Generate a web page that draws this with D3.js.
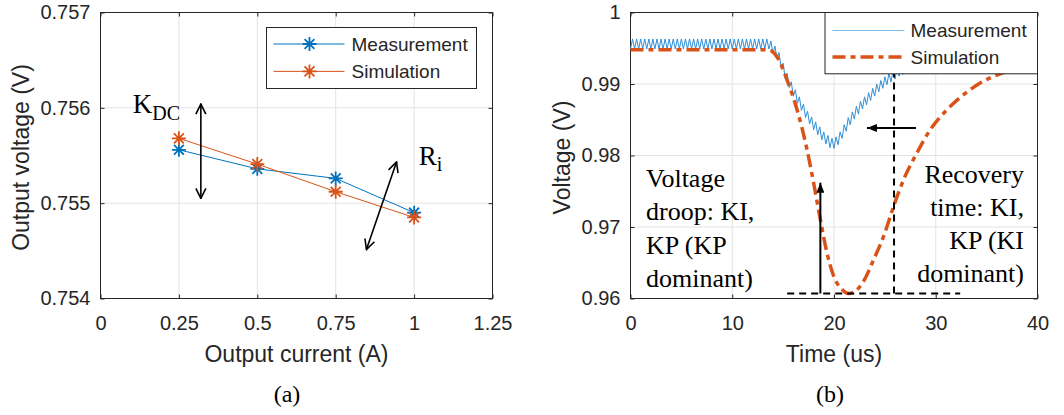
<!DOCTYPE html>
<html>
<head>
<meta charset="utf-8">
<script src="https://cdnjs.cloudflare.com/ajax/libs/d3/7.8.5/d3.min.js"></script>
<style>
  body { margin: 0; background: #fff; }
  .sans { font-family: "Liberation Sans", Arial, sans-serif; fill: #262626; }
  .serif { font-family: "Liberation Serif", "Times New Roman", serif; fill: #000; }
</style>
</head>
<body>
<div id="chart"></div>
<script>
// ---- panel (a): DC load line ----
var currentA = [0.25, 0.5, 0.75, 1.0];
var measuredV = [0.75556, 0.75536, 0.75526, 0.75490];
var simulatedV = [0.75568, 0.75541, 0.75512, 0.75485];
var xTicksA = [0, 0.25, 0.5, 0.75, 1, 1.25];
var yTicksA = [0.754, 0.755, 0.756, 0.757];

// ---- panel (b): load step transient ----
// measured ripple, one sample per half switching period
var measStep = 0.2; // us
var measV = [
  0.9949, 0.9963, 0.9949, 0.9963, 0.9949, 0.9963, 0.9949, 0.9963, 0.9949, 0.9963,
  0.9949, 0.9963, 0.9949, 0.9963, 0.9949, 0.9963, 0.9949, 0.9963, 0.9949, 0.9963,
  0.9949, 0.9963, 0.9949, 0.9963, 0.9949, 0.9963, 0.9949, 0.9963, 0.9949, 0.9963,
  0.9949, 0.9963, 0.9949, 0.9963, 0.9949, 0.9963, 0.9949, 0.9963, 0.9949, 0.9963,
  0.9949, 0.9963, 0.9949, 0.9963, 0.9949, 0.9963, 0.9949, 0.9963, 0.9949, 0.9963,
  0.9949, 0.9963, 0.9949, 0.9963, 0.9949, 0.9963, 0.9949, 0.9963, 0.9949, 0.9963,
  0.9949, 0.9963, 0.9949, 0.9963, 0.9949, 0.9963, 0.9949, 0.9963, 0.9949, 0.9960,
  0.9943, 0.9953, 0.9935, 0.9944, 0.9923, 0.9929, 0.9908, 0.9915, 0.9895, 0.9903,
  0.9883, 0.9892, 0.9873, 0.9882, 0.9863, 0.9872, 0.9853, 0.9862, 0.9844, 0.9854,
  0.9836, 0.9847, 0.9829, 0.9840, 0.9822, 0.9833, 0.9816, 0.9828, 0.9811, 0.9824,
  0.9810, 0.9826, 0.9815, 0.9833, 0.9824, 0.9843, 0.9834, 0.9853, 0.9843, 0.9861,
  0.9851, 0.9869, 0.9858, 0.9876, 0.9865, 0.9882, 0.9871, 0.9888, 0.9877, 0.9894,
  0.9883, 0.9900, 0.9889, 0.9905, 0.9894, 0.9910, 0.9899, 0.9915, 0.9903, 0.9919,
  0.9907, 0.9923, 0.9911, 0.9927, 0.9913
];
var simTime = [0, 13.2, 13.75, 14.57, 15.38, 16.37, 17.35, 18.0, 18.66, 19.31, 19.97, 20.79,
  21.44, 22.09, 22.91, 23.9, 24.88, 25.86, 26.84, 28.15, 29.46, 31.1, 32.73, 34.37, 36.33, 38.2, 40];
var simV = [0.9948, 0.9948, 0.99469, 0.99339, 0.99059, 0.98640, 0.98082, 0.97616, 0.97103, 0.96638, 0.96312, 0.96126,
  0.96070, 0.96102, 0.96242, 0.96545, 0.96871, 0.97290, 0.97662, 0.98035, 0.98361, 0.98640, 0.98850, 0.99013, 0.99143, 0.9922, 0.9927];
var xTicksB = [0, 10, 20, 30, 40];
var yTicksB = [0.96, 0.97, 0.98, 0.99, 1];

var blue = "#0072BD", orange = "#D95319", axisColor = "#262626", gridColor = "#e3e3e3";

var svg = d3.select("#chart").append("svg")
  .attr("width", 1064)
  .attr("height", 415)
  .style("background", "#fff");

var defs = svg.append("defs");
defs.append("marker")
  .attr("id", "openHead")
  .attr("viewBox", "0 0 12 12")
  .attr("refX", 11).attr("refY", 6)
  .attr("markerWidth", 12).attr("markerHeight", 12)
  .attr("markerUnits", "userSpaceOnUse")
  .attr("orient", "auto-start-reverse")
  .append("path")
  .attr("d", "M1,1 L11,6 L1,11")
  .attr("fill", "none").attr("stroke", "#000").attr("stroke-width", 1.6);
defs.append("marker")
  .attr("id", "solidHead")
  .attr("viewBox", "0 0 10 8")
  .attr("refX", 10).attr("refY", 4)
  .attr("markerWidth", 11).attr("markerHeight", 8)
  .attr("markerUnits", "userSpaceOnUse")
  .attr("orient", "auto")
  .append("path")
  .attr("d", "M0,0 L10,4 L0,8 Z")
  .attr("fill", "#000");

function drawFrame(g, x, y, xTicks, yTicks, w, h) {
  g.append("g").selectAll("line")
    .data(xTicks.slice(1, -1))
    .enter().append("line")
    .attr("x1", d => x(d)).attr("x2", d => x(d))
    .attr("y1", 0).attr("y2", h)
    .attr("stroke", gridColor);
  g.append("g").selectAll("line")
    .data(yTicks.slice(1, -1))
    .enter().append("line")
    .attr("y1", d => y(d)).attr("y2", d => y(d))
    .attr("x1", 0).attr("x2", w)
    .attr("stroke", gridColor);

  var label = d => String(d);
  var axes = [
    {axis: d3.axisBottom(x).tickValues(xTicks).tickFormat(label).tickPadding(17), t: `translate(0,${h})`},
    {axis: d3.axisTop(x).tickValues(xTicks).tickFormat(""), t: "translate(0,0)"},
    {axis: d3.axisLeft(y).tickValues(yTicks).tickFormat(label).tickPadding(10), t: "translate(0,0)"},
    {axis: d3.axisRight(y).tickValues(yTicks).tickFormat(""), t: `translate(${w},0)`}
  ];
  axes.forEach(function(a) {
    var ag = g.append("g")
      .attr("transform", a.t)
      .call(a.axis.tickSize(-4).tickSizeOuter(0));
    ag.select(".domain").remove();
    ag.attr("font-size", 20)
      .attr("font-family", '"Liberation Sans", Arial, sans-serif')
      .style("color", axisColor);
  });

  g.append("rect")
    .attr("width", w).attr("height", h)
    .attr("fill", "none")
    .attr("stroke", axisColor);
}

function starPath(r) {
  var d = r * Math.SQRT1_2;
  return `M${-r},0L${r},0M0,${-r}L0,${r}M${-d},${-d}L${d},${d}M${-d},${d}L${d},${-d}`;
}

// ================= panel (a) =================
var wA = 392, hA = 286;
var gA = svg.append("g").attr("transform", "translate(100.5,12.5)");

var xA = d3.scaleLinear().domain([0, 1.25]).range([0, wA]);
var yA = d3.scaleLinear().domain([0.754, 0.757]).range([hA, 0]);

drawFrame(gA, xA, yA, xTicksA, yTicksA, wA, hA);

var seriesA = [
  {name: "Measurement", values: measuredV, color: blue},
  {name: "Simulation", values: simulatedV, color: orange}
];

var lineA = d3.line()
  .x(d => xA(d[0]))
  .y(d => yA(d[1]));

seriesA.forEach(function(s) {
  var pts = currentA.map((c, i) => [c, s.values[i]]);
  gA.append("path")
    .attr("d", lineA(pts))
    .attr("fill", "none")
    .attr("stroke", s.color)
    .attr("stroke-width", 1);
  gA.append("g").selectAll("path")
    .data(pts)
    .enter().append("path")
    .attr("transform", d => `translate(${xA(d[0])},${yA(d[1])})`)
    .attr("d", starPath(7))
    .attr("stroke", s.color)
    .attr("stroke-width", 1.8)
    .attr("fill", "none");
});

// KDC and Ri annotations
gA.append("line")
  .attr("x1", xA(0.32)).attr("x2", xA(0.32))
  .attr("y1", yA(0.75505)).attr("y2", yA(0.75604))
  .attr("stroke", "#000").attr("stroke-width", 1.6)
  .attr("marker-start", "url(#openHead)")
  .attr("marker-end", "url(#openHead)");
gA.append("line")
  .attr("x1", xA(0.848)).attr("y1", yA(0.754513))
  .attr("x2", xA(0.944)).attr("y2", yA(0.755432))
  .attr("stroke", "#000").attr("stroke-width", 1.6)
  .attr("marker-start", "url(#openHead)")
  .attr("marker-end", "url(#openHead)");

var kdc = gA.append("text")
  .attr("class", "serif")
  .attr("x", xA(0.103)).attr("y", yA(0.75595))
  .attr("font-size", 27);
kdc.append("tspan").text("K");
kdc.append("tspan").attr("dy", 7).attr("font-size", 20).text("DC");

var ri = gA.append("text")
  .attr("class", "serif")
  .attr("x", xA(1.015)).attr("y", yA(0.7554))
  .attr("font-size", 27);
ri.append("tspan").text("R");
ri.append("tspan").attr("dy", 6).attr("font-size", 20).text("i");

// legend (a)
var legA = gA.append("g").attr("transform", "translate(166,15)");
legA.append("rect")
  .attr("width", 210).attr("height", 61)
  .attr("fill", "#fff").attr("stroke", axisColor);
seriesA.forEach(function(s, i) {
  var ly = 16.5 + i * 27.4;
  legA.append("line")
    .attr("x1", 7).attr("x2", 78).attr("y1", ly).attr("y2", ly)
    .attr("stroke", s.color).attr("stroke-width", 1);
  legA.append("path")
    .attr("transform", `translate(43,${ly})`)
    .attr("d", starPath(7))
    .attr("stroke", s.color).attr("stroke-width", 1.8);
  legA.append("text")
    .attr("class", "sans")
    .attr("x", 85).attr("y", ly)
    .attr("dy", "0.35em")
    .attr("font-size", 19)
    .text(s.name);
});

gA.append("text")
  .attr("class", "sans")
  .attr("x", wA / 2).attr("y", 349.5)
  .attr("text-anchor", "middle")
  .attr("font-size", 23)
  .text("Output current (A)");
gA.append("text")
  .attr("class", "sans")
  .attr("transform", `translate(-80,${hA / 2 + 2}) rotate(-90)`)
  .attr("text-anchor", "middle")
  .attr("dy", "0.35em")
  .attr("font-size", 23)
  .text("Output voltage (V)");

// ================= panel (b) =================
var wB = 407, hB = 286;
var gB = svg.append("g").attr("transform", "translate(630.5,12.5)");

var xB = d3.scaleLinear().domain([0, 40]).range([0, wB]);
var yB = d3.scaleLinear().domain([0.96, 1]).range([hB, 0]);

drawFrame(gB, xB, yB, xTicksB, yTicksB, wB, hB);

var measLine = d3.line()
  .x((d, i) => xB(i * measStep))
  .y(d => yB(d));
gB.append("path")
  .attr("d", measLine(measV))
  .attr("fill", "none")
  .attr("stroke", "#2f8fd6")
  .attr("stroke-width", 1);

var simLine = d3.line()
  .curve(d3.curveMonotoneX)
  .x((d, i) => xB(simTime[i]))
  .y(d => yB(d));
gB.append("path")
  .attr("d", simLine(simV))
  .attr("fill", "none")
  .attr("stroke", orange)
  .attr("stroke-width", 3.5)
  .attr("stroke-dasharray", "13,5,5,5");

// dashed guides and arrows
gB.append("line")
  .attr("x1", xB(15.4)).attr("x2", xB(32.4))
  .attr("y1", yB(0.9607)).attr("y2", yB(0.9607))
  .attr("stroke", "#000").attr("stroke-width", 2)
  .attr("stroke-dasharray", "7,5");
gB.append("line")
  .attr("x1", xB(25.9)).attr("x2", xB(25.9))
  .attr("y1", yB(0.9607)).attr("y2", yB(0.9914))
  .attr("stroke", "#000").attr("stroke-width", 2)
  .attr("stroke-dasharray", "7,5");
gB.append("line")
  .attr("x1", xB(18.66)).attr("x2", xB(18.66))
  .attr("y1", yB(0.9607)).attr("y2", yB(0.9762))
  .attr("stroke", "#000").attr("stroke-width", 2)
  .attr("marker-end", "url(#solidHead)");
gB.append("line")
  .attr("x1", xB(28.05)).attr("x2", xB(23.24))
  .attr("y1", yB(0.98384)).attr("y2", yB(0.98384))
  .attr("stroke", "#000").attr("stroke-width", 2)
  .attr("marker-end", "url(#solidHead)");

var noteLeft = ["Voltage", "droop: KI,", "KP (KP", "dominant)"];
var noteRight = ["Recovery", "time: KI,", "KP (KI", "dominant)"];
gB.append("g").selectAll("text")
  .data(noteLeft)
  .enter().append("text")
  .attr("class", "serif")
  .attr("x", 15.5)
  .attr("y", (d, i) => 174.5 + i * 33.3)
  .attr("font-size", 26)
  .text(d => d);
gB.append("g").selectAll("text")
  .data(noteRight)
  .enter().append("text")
  .attr("class", "serif")
  .attr("x", 393.5)
  .attr("y", (d, i) => 170.5 + i * 33.1)
  .attr("text-anchor", "end")
  .attr("font-size", 26)
  .text(d => d);

// legend (b), drawn over the traces
var legB = gB.append("g").attr("transform", "translate(194.5,0)");
legB.append("rect")
  .attr("width", wB - 194.5).attr("height", 61.3)
  .attr("fill", "#fff").attr("stroke", axisColor);
legB.append("line")
  .attr("x1", 7.5).attr("x2", 79.5).attr("y1", 18).attr("y2", 18)
  .attr("stroke", "#7fbde9").attr("stroke-width", 1.2);
legB.append("line")
  .attr("x1", 7.5).attr("x2", 79.5).attr("y1", 44.5).attr("y2", 44.5)
  .attr("stroke", orange).attr("stroke-width", 3.5)
  .attr("stroke-dasharray", "13,5,5,5");
legB.selectAll("text.lg")
  .data(["Measurement", "Simulation"])
  .enter().append("text")
  .attr("class", "sans lg")
  .attr("x", 85.5)
  .attr("y", (d, i) => 18 + i * 26.5)
  .attr("dy", "0.35em")
  .attr("font-size", 19)
  .text(d => d);

gB.append("text")
  .attr("class", "sans")
  .attr("x", wB / 2).attr("y", 349.5)
  .attr("text-anchor", "middle")
  .attr("font-size", 23)
  .text("Time (us)");
gB.append("text")
  .attr("class", "sans")
  .attr("transform", `translate(-69,${hB / 2 + 2}) rotate(-90)`)
  .attr("text-anchor", "middle")
  .attr("dy", "0.35em")
  .attr("font-size", 23)
  .text("Voltage (V)");

// captions
svg.append("text").attr("class", "serif")
  .attr("x", 287).attr("y", 401.5)
  .attr("text-anchor", "middle").attr("font-size", 24)
  .text("(a)");
svg.append("text").attr("class", "serif")
  .attr("x", 830).attr("y", 401.5)
  .attr("text-anchor", "middle").attr("font-size", 24)
  .text("(b)");
</script>
</body>
</html>
